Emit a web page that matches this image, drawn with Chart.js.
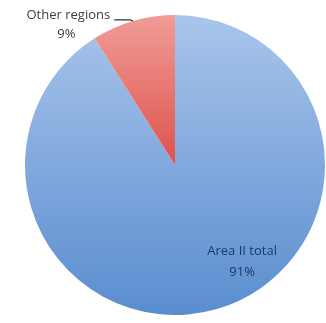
<!DOCTYPE html>
<html>
<head>
<meta charset="utf-8">
<script src="https://cdn.jsdelivr.net/npm/chart.js@4/dist/chart.umd.min.js"></script>
<style>
  html, body { margin: 0; padding: 0; background: #ffffff; }
  #wrap { width: 326px; height: 323px; position: relative; }
</style>
</head>
<body>
<div id="wrap"><canvas id="pie"></canvas></div>
<script>
// Share of the total by region
const regions = ['Area II total', 'Other regions'];
const shares = [91, 9];
const shareLabels = ['91%', '9%'];

// Vertical fills for each slice: [top colour, bottom colour]
const sliceFills = [
  ['#a9c5eb', '#5a8dcf'],
  ['#f09c97', '#de524b']
];

function verticalFill(context) {
  const chart = context.chart;
  const area = chart.chartArea;
  const stops = sliceFills[context.dataIndex];
  if (!area) return stops[1];
  // the small slice runs from the rim down to the centre only
  const bottom = context.dataIndex === 1 ? (area.top + area.bottom) / 2 : area.bottom;
  const g = chart.ctx.createLinearGradient(0, area.top, 0, bottom);
  g.addColorStop(0, stops[0]);
  g.addColorStop(1, stops[1]);
  return g;
}

// Slice labels: one inside the large slice, one outside with a leader line
const sliceLabels = {
  id: 'sliceLabels',
  afterDatasetsDraw(chart) {
    const ctx = chart.ctx;
    const meta = chart.getDatasetMeta(0);
    ctx.save();
    ctx.font = '13px "Open Sans", "DejaVu Sans", sans-serif';
    ctx.textBaseline = 'middle';
    ctx.textAlign = 'center';

    // large slice: label placed inside, lower right
    const big = meta.data[0];
    const a0 = 55 * Math.PI / 180;
    const bx = big.x + Math.cos(a0) * big.outerRadius * 0.78;
    const by = big.y + Math.sin(a0) * big.outerRadius * 0.78;
    ctx.fillStyle = '#1c3a63';
    ctx.fillText(regions[0], bx, by - 10);
    ctx.fillText(shareLabels[0], bx, by + 11);

    // small slice: leader line from the rim, label to the left
    const small = meta.data[1];
    const mid = (small.startAngle + small.endAngle) / 2;
    const ex = small.x + Math.cos(mid) * small.outerRadius;
    const ey = small.y + Math.sin(mid) * small.outerRadius;
    const sx = ex - 19;
    const sy = ey - 1;
    ctx.strokeStyle = '#333333';
    ctx.lineWidth = 1.2;
    ctx.beginPath();
    ctx.moveTo(sx, sy);
    ctx.lineTo(ex - 3, sy);
    ctx.lineTo(ex, ey);
    ctx.stroke();
    ctx.fillStyle = '#404040';
    const w = ctx.measureText(regions[1]).width;
    const cx = sx - 4 - w / 2;
    ctx.fillText(regions[1], cx, sy - 5);
    ctx.fillText(shareLabels[1], cx - 2, sy + 14);
    ctx.restore();
  }
};

new Chart(document.getElementById('pie'), {
  type: 'pie',
  data: {
    labels: regions,
    datasets: [{
      data: shares,
      backgroundColor: verticalFill,
      borderWidth: 0
    }]
  },
  options: {
    responsive: true,
    maintainAspectRatio: false,
    animation: false,
    layout: { padding: { left: 25, right: 1, top: 15, bottom: 8 } },
    plugins: {
      legend: { display: false },
      tooltip: { enabled: false }
    }
  },
  plugins: [sliceLabels]
});
</script>
</body>
</html>
